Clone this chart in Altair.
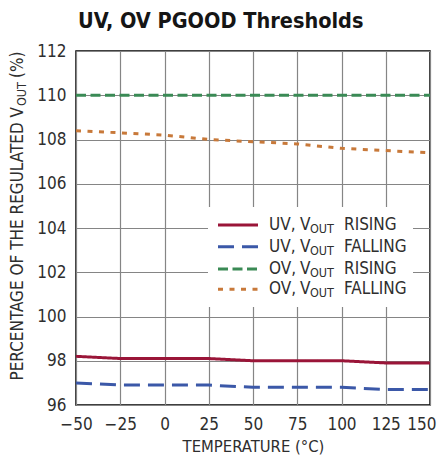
import altair as alt
import pandas as pd

temps = [-50, -25, 0, 25, 50, 75, 100, 125, 150]
uv_rising = [98.2, 98.1, 98.1, 98.1, 98.0, 98.0, 98.0, 97.9, 97.9]
uv_falling = [97.0, 96.9, 96.9, 96.9, 96.8, 96.8, 96.8, 96.7, 96.7]
ov_rising = [110.0, 110.0, 110.0, 110.0, 110.0, 110.0, 110.0, 110.0, 110.0]
ov_falling = [108.4, 108.3, 108.2, 108.0, 107.9, 107.8, 107.6, 107.5, 107.4]

series = ["UV RISING", "UV FALLING", "OV RISING", "OV FALLING"]
legend_prefix = ["UV,", "UV,", "OV,", "OV,"]
legend_suffix = ["RISING", "FALLING", "RISING", "FALLING"]
x_ticks = [-50, -25, 0, 25, 50, 75, 100, 125, 150]
y_ticks = [96, 98, 100, 102, 104, 106, 108, 110, 112]

colors = ["#9A1538", "#3B58A8", "#3A8A55", "#C8793A"]
dashes = [[1, 0], [16, 8], [10, 4.5], [5, 6.5]]

FONT = "DejaVu Sans Condensed, Roboto Condensed, Liberation Sans Narrow, Liberation Sans, sans-serif"
TXT = "#2e2e2e"

rows = []
for s, vals in zip(series, [uv_rising, uv_falling, ov_rising, ov_falling]):
    for t, v in zip(temps, vals):
        rows.append({"temp": t, "pct": v, "series": s})
df = pd.DataFrame(rows)

W, H = 354, 354

lines = alt.Chart(df).mark_line(strokeWidth=3, clip=True).encode(
    x=alt.X("temp:Q", scale=alt.Scale(domain=[-50, 150], nice=False),
            axis=alt.Axis(values=x_ticks, title="TEMPERATURE (°C)", grid=True,
                          gridColor="#858585", gridWidth=1.2, domain=False, ticks=False,
                          labelFont=FONT, labelFontSize=17, labelColor=TXT, labelPadding=11,
                          labelAlign={"condition": {"test": "datum.value == 150", "value": "right"},
                                      "value": "center"},
                          labelOffset={"condition": {"test": "datum.value == 150", "value": 6},
                                       "value": 0},
                          titleFont=FONT, titleFontSize=16.5, titleFontWeight="normal",
                          titleColor=TXT, titlePadding=6, labelFlush=False)),
    y=alt.Y("pct:Q", scale=alt.Scale(domain=[96, 112], nice=False),
            axis=alt.Axis(values=y_ticks, title=None, grid=True,
                          gridColor="#858585", gridWidth=1.2, domain=False, ticks=False,
                          labelFont=FONT, labelFontSize=17, labelColor=TXT, labelPadding=10,
                          labelFlush=False)),
    color=alt.Color("series:N", scale=alt.Scale(domain=series, range=colors), legend=None),
    strokeDash=alt.StrokeDash("series:N", scale=alt.Scale(domain=series, range=dashes), legend=None),
    order=alt.Order("temp:Q"),
)

layers = [lines]

# legend background
layers.append(alt.Chart(pd.DataFrame({"a": [0]})).mark_rect(fill="white").encode(
    x=alt.value(132), x2=alt.value(337), y=alt.value(156), y2=alt.value(256)))

row_y = [174, 195.7, 218, 238.3]
for i in range(len(series)):
    yy = row_y[i]
    layers.append(alt.Chart(pd.DataFrame({"a": [0]})).mark_rule(
        color=colors[i], strokeDash=dashes[i], strokeWidth=3).encode(
        x=alt.value(142), x2=alt.value(182), y=alt.value(yy)))
    pieces = [
        (legend_prefix[i], 193, 17, 0),
        ("V", 224, 17, 0),
        ("OUT", 234, 12.5, 4),
        (legend_suffix[i], 268, 17, 0),
    ]
    for txt, xx, fs, off in pieces:
        layers.append(alt.Chart(pd.DataFrame({"t": [txt]})).mark_text(
            align="left", baseline="middle", font=FONT, fontSize=fs, color=TXT).encode(
            x=alt.value(xx), y=alt.value(yy + off), text="t:N"))

# y-axis title (rotated, with subscript)
ytitle = [
    ("PERCENTAGE OF THE REGULATED V", "right", 56, 17, 0),
    ("OUT", "left", 55, 12.5, 4),
    ("(%)", "left", 27, 17, 0),
]
for txt, al, yy, fs, off in ytitle:
    layers.append(alt.Chart(pd.DataFrame({"t": [txt]})).mark_text(
        align=al, baseline="middle", angle=270, font=FONT, fontSize=fs, color=TXT).encode(
        x=alt.value(-58 + off), y=alt.value(yy), text="t:N"))

chart = alt.layer(*layers).properties(
    width=W, height=H,
    title=alt.TitleParams("UV, OV PGOOD Thresholds", anchor="start", frame="group", font=FONT,
                          fontSize=21.5, fontWeight="bold", color="#151515", offset=10, dx=2),
    autosize=alt.AutoSizeParams(type="none"),
    padding={"left": 68, "top": 43, "right": 7, "bottom": 51},
).configure_view(stroke="black", strokeWidth=1.5)

chart.save("out.html", embed_options={"renderer": "svg", "actions": False})
